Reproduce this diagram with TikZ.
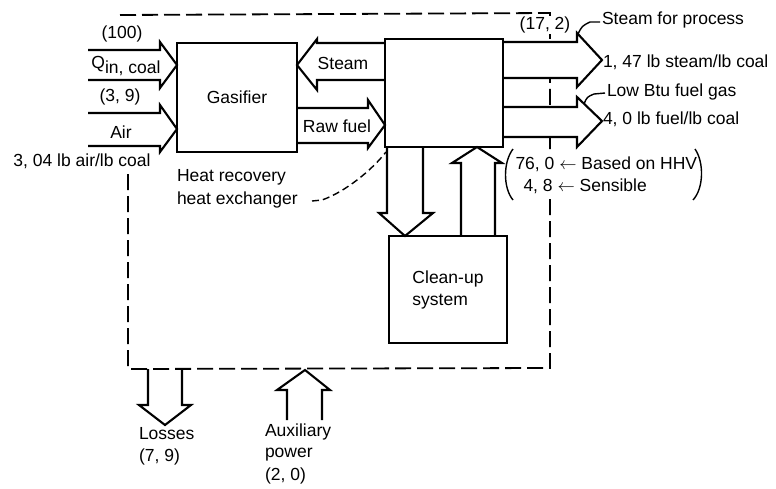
\documentclass[tikz,border=0pt]{standalone}
\usepackage{fontspec}
\setmainfont{Liberation Sans}
\begin{document}
\begin{tikzpicture}[x=1pt,y=-1pt,
  every node/.style={font=\fontsize{17.5}{22}\selectfont, inner sep=0pt, outer sep=0pt},
  blockbox/.style={draw, line width=2.2pt, fill=white, minimum width=#1},
  fat/.style={draw, fill=white, line width=2.1pt, line join=miter},
  openfat/.style={draw, line width=2.1pt, line join=miter},
  boundary/.style={line width=1.8pt, dash pattern=on 16pt off 6pt},
  leader/.style={line width=1.4pt},
  frame/.style={draw, line width=2.2pt},
  txt/.style={anchor=west}]
\useasboundingbox (0,0) rectangle (776,488);

% system boundary
\draw[boundary] (120,15) -- (550,13) -- (550,368) -- (128,369) -- (128,172);

% boxes
\node[blockbox=120pt, minimum height=109pt] (gas) at (237,97.5) {Gasifier};
\node[blockbox=118pt, minimum height=108pt] (hr) at (444,93) {};
\node[blockbox=118pt, minimum height=107pt, align=left] (clean) at (448,289.5) {Clean-up\\system};

% input arrows
\draw[fat] (88,50) -- (160,50) -- (160,42) -- (gas.west |- 0,65) -- (160,88) -- (160,80) -- (88,80);
\draw[fat] (88,113) -- (160,113) -- (160,105) -- (gas.west |- 0,129) -- (160,152) -- (160,146) -- (88,146);

% steam arrow (HR -> gasifier)
\draw[fat] (hr.west |- 0,43) -- (317,43) -- (317,39) -- (gas.east |- 0,65) -- (317,90) -- (317,80) -- (hr.west |- 0,80);
% raw fuel arrow (gasifier -> HR)
\draw[fat] (gas.east |- 0,108) -- (368,108) -- (368,100) -- (hr.west |- 0,125) -- (368,148) -- (368,143) -- (gas.east |- 0,143);

% down arrow HR -> clean-up
\draw[openfat] (387,147) -- (387,213) -- (379,213) -- (405,236) -- (433,213) -- (423,213) -- (423,147);
% up arrow clean-up -> HR
\draw[openfat] (461,236) -- (461,163) -- (452,163) -- (477,147) -- (502,163) -- (495,163) -- (495,236);

% output arrows
\draw[fat] (hr.east |- 0,42) -- (577,42) -- (577,33) -- (602,60) -- (577,87) -- (577,78) -- (hr.east |- 0,78);
\draw[fat] (hr.east |- 0,107) -- (577,107) -- (577,97) -- (602,121) -- (577,147) -- (577,137) -- (hr.east |- 0,137);

% losses / auxiliary power
\draw[openfat] (148,369) -- (148,405) -- (139,405) -- (165,425) -- (191,405) -- (182,405) -- (182,369);
\draw[openfat] (287,420) -- (287,390) -- (277,390) -- (305,370) -- (330,390) -- (322,390) -- (322,420);

% box frames redrawn on top of arrow fills
\draw[frame] (gas.north west) rectangle (gas.south east);
\draw[frame] (hr.north west) rectangle (hr.south east);
\draw[frame] (clean.north west) rectangle (clean.south east);

% leaders
\draw[leader, dash pattern=on 7pt off 4pt] (312,201) -- (322,200) .. controls (345,192) and (372,170) .. (386,152);
\draw[leader] (578,34) .. controls (582,26) .. (590,22) -- (600,22);
\draw[leader] (584,104) .. controls (587,97) .. (594,94) -- (605,93);

% texts
\node (t100) at (122,34) {(100)};
\node (tq) at (126,66) {Q\raisebox{-0.45ex}{in, coal}};
\node (t39) at (120,97) {(3, 9)};
\node (tair) at (121,132) {Air};
\node (tairr) at (82,161) {3, 04 lb air/lb coal};
\node (tsteam) at (343,63) {Steam};
\node (traw) at (337,126) {Raw fuel};
\node[txt] (thr1) at (177,177) {Heat recovery};
\node[txt] (thr2) at (177,200) {heat exchanger};
\node[fill=white, inner sep=1pt] (t172) at (545,25) {(17, 2)};
\node[txt] (tsp) at (602,20) {Steam for process};
\node[txt] (t147) at (603,62) {1, 47 lb steam/lb coal};
\node[txt] (tlow) at (607,92) {Low Btu fuel gas};
\node[txt] (t40) at (603,119) {4, 0 lb fuel/lb coal};
\node[txt, fill=white, inner sep=1.5pt] (t76) at (514,164) {76, 0 $\leftarrow$ Based on HHV};
\node[txt, fill=white, inner sep=1.5pt] (t48) at (522,186) {4, 8 $\leftarrow$ Sensible};
\node[txt] (tloss1) at (139,434) {Losses};
\node[txt] (tloss2) at (139,457) {(7, 9)};
\node[txt] (taux1) at (265,432) {Auxiliary};
\node[txt] (taux2) at (265,455) {power};
\node[txt] (taux3) at (265,476) {(2, 0)};

% parentheses
\draw[leader] (513,149) .. controls (503,162) and (503,188) .. (513,200);
\draw[leader] (695,149) .. controls (704,162) and (704,188) .. (693,200);
\end{tikzpicture}
\end{document}
